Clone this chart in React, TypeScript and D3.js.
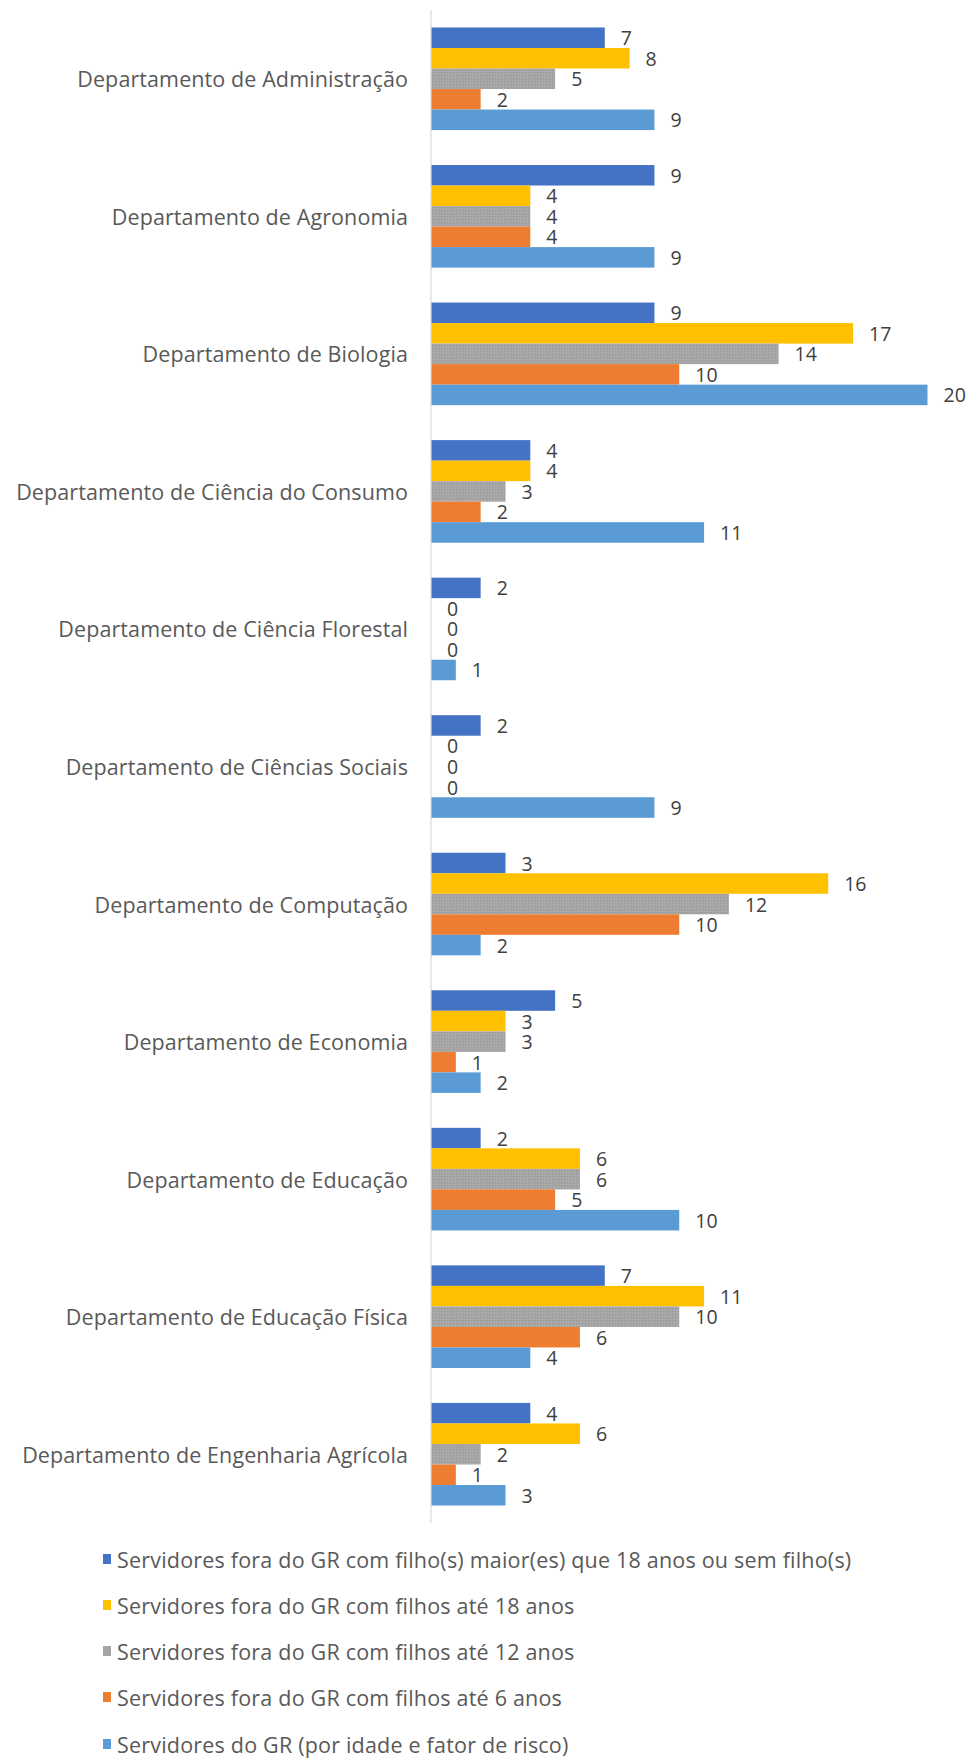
import React from "react";
import * as d3 from "d3";

const categories = [
  "Departamento de Administração",
  "Departamento de Agronomia",
  "Departamento de Biologia",
  "Departamento de Ciência do Consumo",
  "Departamento de Ciência Florestal",
  "Departamento de Ciências Sociais",
  "Departamento de Computação",
  "Departamento de Economia",
  "Departamento de Educação",
  "Departamento de Educação Física",
  "Departamento de Engenharia Agrícola",
];

const seriesNames = [
  "Servidores fora do GR com filho(s) maior(es) que 18 anos ou sem filho(s)",
  "Servidores fora do GR com filhos até 18 anos",
  "Servidores fora do GR com filhos até 12 anos",
  "Servidores fora do GR com filhos até 6 anos",
  "Servidores do GR (por idade e fator de risco)",
];

const maior18 = [7, 9, 9, 4, 2, 2, 3, 5, 2, 7, 4];
const ate18 = [8, 4, 17, 4, 0, 0, 16, 3, 6, 11, 6];
const ate12 = [5, 4, 14, 3, 0, 0, 12, 3, 6, 10, 2];
const ate6 = [2, 4, 10, 2, 0, 0, 10, 1, 5, 6, 1];
const grupoRisco = [9, 9, 20, 11, 1, 9, 2, 2, 10, 4, 3];

const seriesValues = [maior18, ate18, ate12, ate6, grupoRisco];
const colors = ["#4472C4", "#FFC000", "#A5A5A5", "#ED7D31", "#5B9BD5"];

const W = 976;
const H = 1760;
const axisX = 431;
const FONT = "'Open Sans', 'Noto Sans', sans-serif";

export default function App() {
  const x = d3.scaleLinear().domain([0, 20]).range([axisX, axisX + 496.5]);
  const y0 = d3
    .scaleBand<string>()
    .domain(categories)
    .range([10, 1523])
    .paddingInner(0.254)
    .paddingOuter(0.127);
  const y1 = d3
    .scaleBand<number>()
    .domain(d3.range(seriesNames.length))
    .range([0, y0.bandwidth()]);

  const legendY = [1559, 1605, 1651, 1697, 1744];

  return (
    <svg
      width={W}
      height={H}
      style={{ position: "absolute", left: 0, top: 0, background: "#fff" }}
      fontFamily={FONT}
    >
      <defs>
        <pattern id="grayHatch" width="3" height="3" patternUnits="userSpaceOnUse">
          <rect width="3" height="3" fill="#A5A5A5" />
          <rect width="1" height="1" fill="#989898" />
          <rect x="2" y="2" width="1" height="1" fill="#b2b2b2" />
        </pattern>
      </defs>
      {categories.map((cat, i) => {
        const gy = y0(cat)!;
        return (
          <g key={cat}>
            <text
              x={408}
              y={gy + y0.bandwidth() / 2}
              textAnchor="end"
              dominantBaseline="central"
              fontSize={21.5}
              fill="#595959"
              letterSpacing={0.1}
            >
              {cat}
            </text>
            {seriesValues.map((vals, s) => {
              const v = vals[i];
              const by = gy + y1(s)!;
              return (
                <g key={s}>
                  <rect
                    x={axisX}
                    y={by}
                    width={x(v) - axisX}
                    height={y1.bandwidth()}
                    fill={s === 2 ? "url(#grayHatch)" : colors[s]}
                  />
                  <text
                    x={x(v) + 16}
                    y={by + y1.bandwidth() / 2}
                    dominantBaseline="central"
                    fontSize={19.5}
                    fill="#404040"
                  >
                    {v}
                  </text>
                </g>
              );
            })}
          </g>
        );
      })}
      <line x1={axisX} x2={axisX} y1={10} y2={1523} stroke="#D9D9D9" strokeWidth={1.2} />
      {seriesNames.map((name, s) => (
        <g key={name}>
          <rect x={103} y={legendY[s] - 5} width={8} height={10} fill={colors[s]} />
          <text
            x={117}
            y={legendY[s]}
            dominantBaseline="central"
            fontSize={21.5}
            fill="#595959"
            letterSpacing={0.2}
          >
            {name}
          </text>
        </g>
      ))}
    </svg>
  );
}
